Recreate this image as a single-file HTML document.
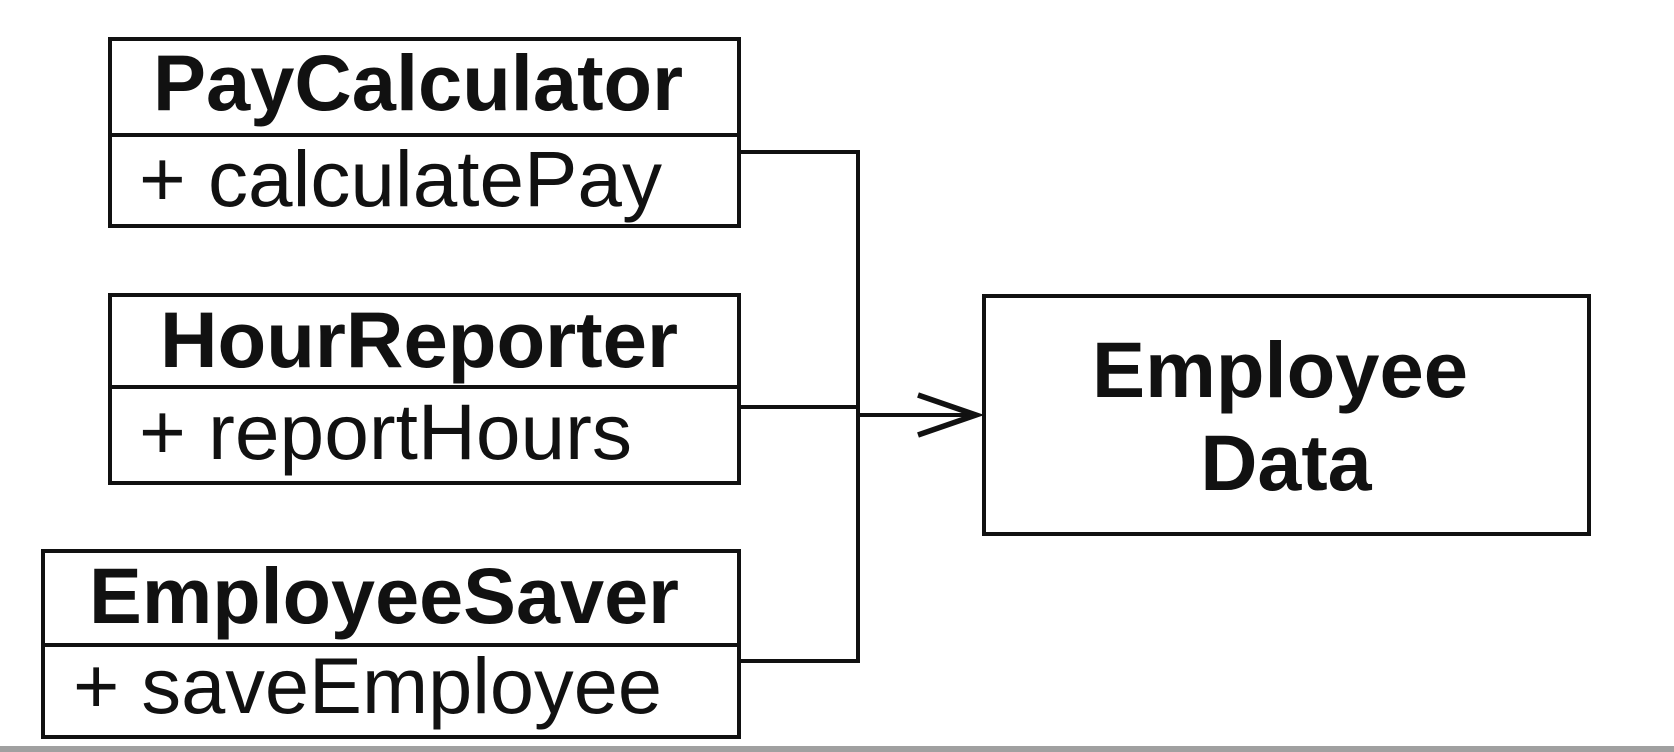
<!DOCTYPE html>
<html><head><meta charset="utf-8"><style>html,body{margin:0;padding:0;background:#fff}svg{display:block}</style></head>
<body>
<svg width="1674" height="752" viewBox="0 0 1674 752" xmlns="http://www.w3.org/2000/svg" font-family="Liberation Sans, Arial, sans-serif" fill="#111">
<rect x="0" y="0" width="1674" height="752" fill="#fff"/>
<g fill="none" stroke="#111" stroke-width="4">
<rect x="110" y="39" width="629" height="187"/>
<line x1="110" y1="135" x2="739" y2="135"/>
<rect x="110" y="295" width="629" height="188"/>
<line x1="110" y1="387" x2="739" y2="387"/>
<rect x="43" y="551" width="696" height="186"/>
<line x1="43" y1="645" x2="739" y2="645"/>
<rect x="984" y="296" width="605" height="238"/>
<polyline points="739,152 858,152 858,661 739,661"/>
<line x1="739" y1="407" x2="858" y2="407"/>
<line x1="858" y1="415" x2="976" y2="415"/>
<polyline points="918,395 976,415 918,435" stroke-width="5.5"/>
</g>
<g font-size="79">
<text x="153" y="110" font-weight="bold" textLength="530" lengthAdjust="spacingAndGlyphs">PayCalculator</text>
<text x="139" y="206" textLength="523" lengthAdjust="spacingAndGlyphs">+ calculatePay</text>
<text x="160" y="367" font-weight="bold" textLength="518" lengthAdjust="spacingAndGlyphs">HourReporter</text>
<text x="139" y="459" textLength="493" lengthAdjust="spacingAndGlyphs">+ reportHours</text>
<text x="89" y="623" font-weight="bold" textLength="590" lengthAdjust="spacingAndGlyphs">EmployeeSaver</text>
<text x="73" y="713" textLength="589" lengthAdjust="spacingAndGlyphs">+ saveEmployee</text>
<text x="1092" y="397" font-weight="bold" textLength="376" lengthAdjust="spacingAndGlyphs">Employee</text>
<text x="1286" y="490" font-weight="bold" text-anchor="middle">Data</text>
</g>
<rect x="0" y="746" width="1674" height="6" fill="#a0a0a0"/>
</svg>
</body></html>
